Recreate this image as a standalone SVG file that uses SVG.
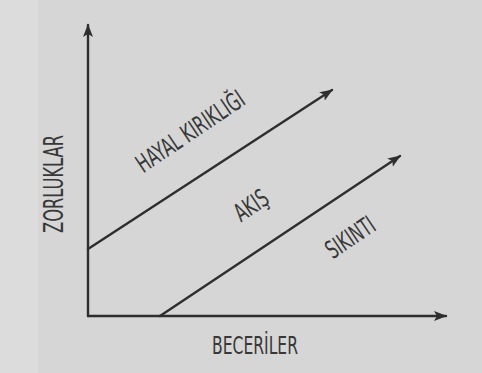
<svg xmlns="http://www.w3.org/2000/svg" width="482" height="373" viewBox="0 0 482 373">
  <style>
    .ax { stroke: #2e2e2e; stroke-width: 2.4; fill: none; stroke-linecap: round; }
    .lbl { font-family: "Liberation Sans Narrow", "DejaVu Sans Condensed", "Liberation Sans", sans-serif; fill: #383838; text-anchor: middle; }
  </style>
  <defs>
    <marker id="arr" markerUnits="userSpaceOnUse" markerWidth="14" markerHeight="12" refX="12" refY="5" orient="auto">
      <path d="M0,0 L13,5 L0,10 L3,5 Z" fill="#2e2e2e"/>
    </marker>
  </defs>
  <rect width="482" height="373" fill="#d6d6d6"/>
  <rect x="0" y="0" width="38" height="373" fill="#dcdcdc"/>
  <g id="connectors">
    <line class="ax" x1="88" y1="316" x2="88" y2="25" marker-end="url(#arr)"/>
    <line class="ax" x1="88" y1="316" x2="446" y2="316" marker-end="url(#arr)"/>
    <line class="ax" x1="88" y1="249" x2="332" y2="90" marker-end="url(#arr)"/>
    <line class="ax" x1="160" y1="316" x2="400" y2="156" marker-end="url(#arr)"/>
  </g>
  <g id="zorluklar">
    <text class="lbl" font-size="26" transform="translate(54,184) rotate(-90)" y="9" textLength="98" lengthAdjust="spacingAndGlyphs">ZORLUKLAR</text>
  </g>
  <g id="beceriler">
    <text class="lbl" font-size="25" x="255" y="354" textLength="86" lengthAdjust="spacingAndGlyphs">BECERİLER</text>
  </g>
  <g id="hayal">
    <text class="lbl" font-size="25" transform="translate(190,131) rotate(-34)" y="9" textLength="125" lengthAdjust="spacingAndGlyphs">HAYAL KIRIKLIĞI</text>
  </g>
  <g id="akis">
    <text class="lbl" font-size="25" transform="translate(251,205) rotate(-34)" y="9" textLength="36" lengthAdjust="spacingAndGlyphs">AKIŞ</text>
  </g>
  <g id="sikinti">
    <text class="lbl" font-size="25" transform="translate(350,237) rotate(-34)" y="9" textLength="54" lengthAdjust="spacingAndGlyphs">SIKINTI</text>
  </g>
</svg>
